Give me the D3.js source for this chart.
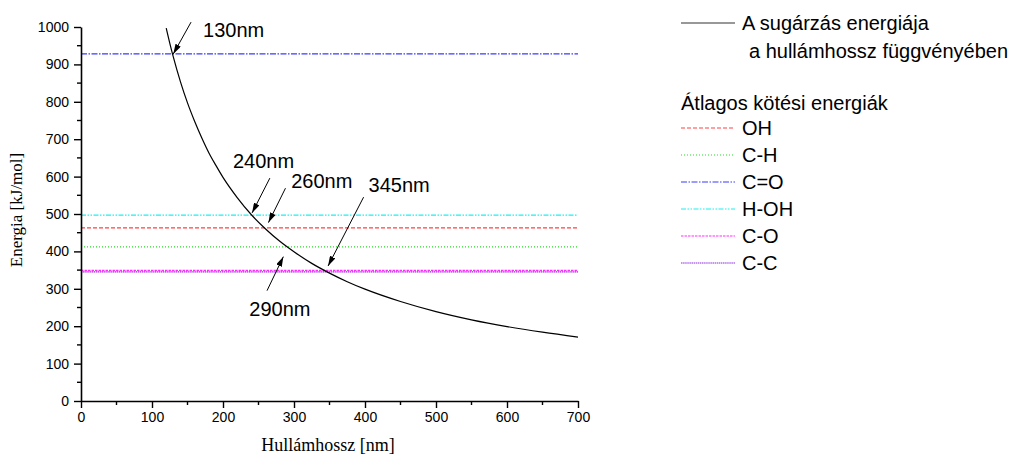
<!DOCTYPE html>
<html>
<head>
<meta charset="utf-8">
<script src="https://cdn.jsdelivr.net/npm/d3@7"></script>
<style>
  html, body { margin: 0; padding: 0; background: #fff; }
  svg { display: block; }
</style>
</head>
<body>
<svg id="chart" width="1035" height="456"></svg>
<script>
// Photon energy as a function of wavelength (nm -> kJ/mol)
const wavelengths = [120, 125, 130, 140, 150, 160, 170, 180, 190, 200, 220, 240, 260, 280, 300, 325, 350, 375, 400, 450, 500, 550, 600, 650, 700];
const energies    = [997, 957, 920, 854, 797, 748, 704, 664, 630, 598, 544, 498, 460, 427, 399, 368, 342, 319, 299, 266, 239, 217, 199, 184, 171];

// Average bond energies (kJ/mol)
const bondNames  = ["OH", "C-H", "C=O", "H-OH", "C-O", "C-C"];
const bondValues = [463, 412, 928, 497, 349, 345];
const bondColors = ["#ff4040", "#22e022", "#3a3aff", "#19f0f0", "#ff2cff", "#8a2be2"];
const bondDashes = ["4,2", "1,2", "6,1.5,1.5,1.5", "5,1.5,1.5,1.5,1.5,1.5", "2.5,1", "1.5,0.6"];

// Arrow annotations: label, arrow tail, arrow tip, label anchor (data units)
const noteLabels = ["130nm", "240nm", "260nm", "345nm", "290nm"];
const noteTail   = [[155, 1013], [266, 596], [288, 569], [398, 545], [262, 295]];
const noteTip    = [[130, 928], [241, 503], [264, 477], [348, 361], [285, 386]];
const noteText   = [[172, 973], [214, 622], [296, 570], [405, 560], [237, 228]];

const xTicks = [0, 100, 200, 300, 400, 500, 600, 700];
const yTicks = [0, 100, 200, 300, 400, 500, 600, 700, 800, 900, 1000];

const svg = d3.select("#chart");
const x = d3.scaleLinear().domain([0, 700]).range([81, 578]);
const y = d3.scaleLinear().domain([0, 1000]).range([401, 27]);

const sans = "'Liberation Sans', Arial, Helvetica, sans-serif";
const serif = "'Liberation Serif', 'Times New Roman', serif";

// Bond energy reference lines
svg.append("g").selectAll("line")
  .data(bondValues)
  .join("line")
  .attr("x1", x(0)).attr("x2", x(700))
  .attr("y1", d => y(d)).attr("y2", d => y(d))
  .attr("stroke", (d, i) => bondColors[i])
  .attr("stroke-width", 1.2)
  .attr("stroke-dasharray", (d, i) => bondDashes[i]);

// Energy curve
const line = d3.line()
  .x((d, i) => x(wavelengths[i]))
  .y(d => y(d))
  .curve(d3.curveMonotoneX);
svg.append("path")
  .datum(energies)
  .attr("d", line)
  .attr("fill", "none")
  .attr("stroke", "#000")
  .attr("stroke-width", 1.2);

// Axes
const fmt = d3.format("d");
const xAxis = svg.append("g").attr("transform", `translate(0,${y(0)})`)
  .call(d3.axisBottom(x).tickValues(xTicks).tickFormat(fmt).tickSize(7).tickPadding(4).tickSizeOuter(0));
const yAxis = svg.append("g").attr("transform", `translate(${x(0)},0)`)
  .call(d3.axisLeft(y).tickValues(yTicks).tickFormat(fmt).tickSize(7).tickPadding(5).tickSizeOuter(0));
[xAxis, yAxis].forEach(g => {
  g.select(".domain").attr("stroke", "#000").attr("stroke-width", 1.6);
  g.selectAll(".tick line").attr("stroke", "#000").attr("stroke-width", 1.4);
  g.selectAll(".tick text").attr("fill", "#000").style("font-family", sans).style("font-size", "14px");
});

// Minor ticks
const xMinor = d3.range(50, 700, 100);
const yMinor = d3.range(50, 1000, 100);
svg.append("g").selectAll("line").data(xMinor).join("line")
  .attr("x1", d => x(d)).attr("x2", d => x(d))
  .attr("y1", y(0)).attr("y2", y(0) + 4)
  .attr("stroke", "#000").attr("stroke-width", 1.4);
svg.append("g").selectAll("line").data(yMinor).join("line")
  .attr("x1", x(0) - 4).attr("x2", x(0))
  .attr("y1", d => y(d)).attr("y2", d => y(d))
  .attr("stroke", "#000").attr("stroke-width", 1.4);

// Axis titles
svg.append("text")
  .attr("x", 328).attr("y", 451)
  .attr("text-anchor", "middle")
  .style("font-family", serif).style("font-size", "18px")
  .text("Hullámhossz [nm]");
svg.append("text")
  .attr("transform", "translate(22,210) rotate(-90)")
  .attr("text-anchor", "middle")
  .style("font-family", serif).style("font-size", "17px")
  .text("Energia [kJ/mol]");

// Arrow marker
svg.append("defs").append("marker")
  .attr("id", "arrowhead")
  .attr("viewBox", "0 0 10 6")
  .attr("refX", 10).attr("refY", 3)
  .attr("markerWidth", 10).attr("markerHeight", 6)
  .attr("markerUnits", "userSpaceOnUse")
  .attr("orient", "auto")
  .append("path")
  .attr("d", "M0,0 L10,3 L0,6 Z")
  .attr("fill", "#000");

// Annotations
const notes = svg.append("g");
noteLabels.forEach((lab, i) => {
  notes.append("line")
    .attr("x1", x(noteTail[i][0])).attr("y1", y(noteTail[i][1]))
    .attr("x2", x(noteTip[i][0])).attr("y2", y(noteTip[i][1]))
    .attr("stroke", "#000").attr("stroke-width", 1)
    .attr("marker-end", "url(#arrowhead)");
  notes.append("text")
    .attr("x", x(noteText[i][0])).attr("y", y(noteText[i][1]))
    .style("font-family", sans).style("font-size", "20px")
    .text(lab);
});

// Legend
const legend = svg.append("g");
legend.append("line")
  .attr("x1", 681).attr("x2", 735).attr("y1", 23).attr("y2", 23)
  .attr("stroke", "#333").attr("stroke-width", 1.2);
legend.append("text").attr("x", 742).attr("y", 30)
  .style("font-family", sans).style("font-size", "20px")
  .text("A sugárzás energiája");
legend.append("text").attr("x", 749).attr("y", 58)
  .style("font-family", sans).style("font-size", "20px")
  .text("a hullámhossz függvényében");
legend.append("text").attr("x", 681).attr("y", 110)
  .style("font-family", sans).style("font-size", "20px")
  .text("Átlagos kötési energiák");

const rows = legend.selectAll("g.row")
  .data(bondNames)
  .join("g")
  .attr("class", "row")
  .attr("transform", (d, i) => `translate(0,${128 + i * 27})`);
rows.append("line")
  .attr("x1", 681).attr("x2", 735)
  .attr("stroke", (d, i) => bondColors[i])
  .attr("stroke-width", 1.2)
  .attr("stroke-dasharray", (d, i) => bondDashes[i]);
rows.append("text")
  .attr("x", 742).attr("y", 7)
  .style("font-family", sans).style("font-size", "20px")
  .text(d => d);
</script>
</body>
</html>
